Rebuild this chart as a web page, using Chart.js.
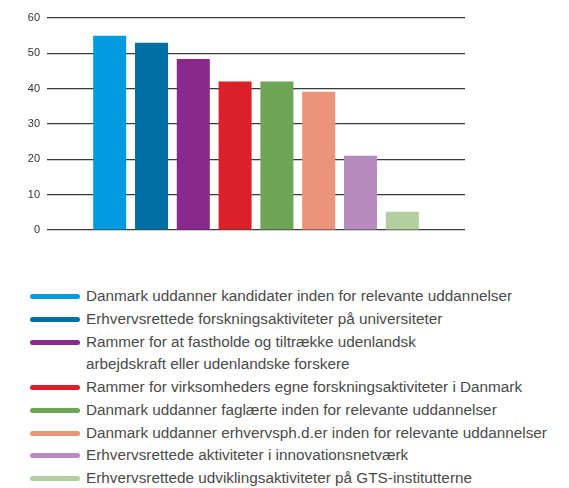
<!DOCTYPE html>
<html>
<head>
<meta charset="utf-8">
<script src="https://cdn.jsdelivr.net/npm/chart.js@4/dist/chart.umd.min.js"></script>
<style>
  html, body { margin: 0; padding: 0; background: #fff; }
  #wrap { position: relative; width: 569px; height: 488px; overflow: hidden; }
  #chartBox { position: absolute; left: 0; top: 0; width: 569px; height: 250px; }
  #legend { position: absolute; left: 30px; top: 285px; margin: 0; padding: 0; list-style: none;
    font-family: "Liberation Sans", Arial, sans-serif; font-size: 15.3px; line-height: 22.75px; color: #4a4a4a; }
  #legend li { position: relative; padding-left: 56px; white-space: pre-line; }
  #legend .sw { position: absolute; left: 0; top: 9px; width: 50px; height: 5px; border-radius: 3px; }
</style>
</head>
<body>
<div id="wrap">
  <div id="chartBox"><canvas id="c"></canvas></div>
  <ul id="legend"></ul>
</div>
<script>
// Rammebetingelser – andel (pct.)
const categories = [
  "Danmark uddanner kandidater inden for relevante uddannelser",
  "Erhvervsrettede forskningsaktiviteter på universiteter",
  "Rammer for at fastholde og tiltrække udenlandsk\narbejdskraft eller udenlandske forskere",
  "Rammer for virksomheders egne forskningsaktiviteter i Danmark",
  "Danmark uddanner faglærte inden for relevante uddannelser",
  "Danmark uddanner erhvervsph.d.er inden for relevante uddannelser",
  "Erhvervsrettede aktiviteter i innovationsnetværk",
  "Erhvervsrettede udviklingsaktiviteter på GTS-institutterne"
];
const values = [55, 53, 48.4, 42, 42, 39.1, 21, 5.2];
const colors = ["#009ADE", "#0070A4", "#8A288D", "#DA2129", "#6FA656", "#EA957A", "#B78BBE", "#B3CFA0"];
const yTicks = [0, 10, 20, 30, 40, 50, 60];

// one empty slot on each side of the bars
const slotLabels = ["", ...categories.map((c, i) => "k" + (i + 1)), ""];
const slotValues = [null, ...values, null];
const slotColors = ["#fff", ...colors, "#fff"];

new Chart(document.getElementById("c"), {
  type: "bar",
  data: {
    labels: slotLabels,
    datasets: [{
      data: slotValues,
      backgroundColor: slotColors,
      borderWidth: 0,
      barPercentage: 0.79,
      categoryPercentage: 1
    }]
  },
  options: {
    responsive: true,
    maintainAspectRatio: false,
    animation: false,
    layout: { padding: { left: 0, right: 104, top: 18, bottom: 20 } },
    plugins: { legend: { display: false }, tooltip: { enabled: false } },
    scales: {
      x: { display: false },
      y: {
        min: 0, max: 60,
        afterFit: s => { s.width = 47; },
        afterBuildTicks: s => { s.ticks = yTicks.map(v => ({ value: v })); },
        border: { display: false },
        grid: { color: "#3a3a3a", lineWidth: 1.2, drawTicks: false },
        ticks: {
          padding: 7,
          color: "#333",
          font: { family: "'Liberation Sans', Arial, sans-serif", size: 11 }
        }
      }
    }
  }
});

// legend below the chart
const ul = document.getElementById("legend");
categories.forEach((name, i) => {
  const li = document.createElement("li");
  const sw = document.createElement("span");
  sw.className = "sw";
  sw.style.background = colors[i];
  li.appendChild(sw);
  li.appendChild(document.createTextNode(name));
  ul.appendChild(li);
});
</script>
</body>
</html>
